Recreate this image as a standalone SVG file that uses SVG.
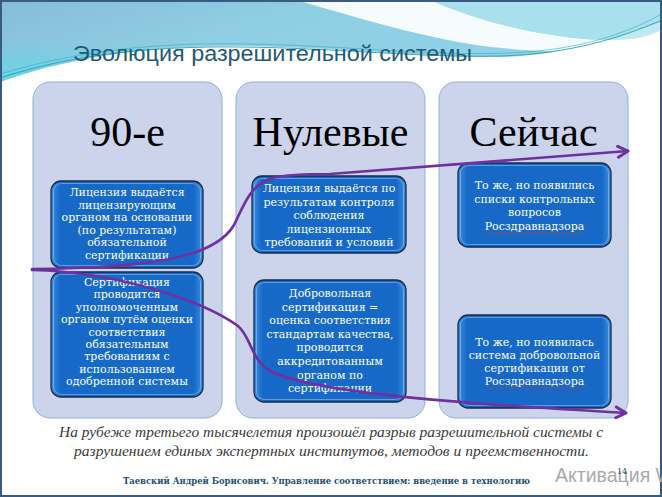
<svg xmlns="http://www.w3.org/2000/svg" width="662" height="497" viewBox="0 0 662 497">
<defs>
  <linearGradient id="hdr" x1="0" y1="0" x2="1" y2="0.4">
    <stop offset="0" stop-color="#86bcd9"/>
    <stop offset="0.45" stop-color="#8fcfe3"/>
    <stop offset="1" stop-color="#8fd2ea"/>
  </linearGradient>
  <linearGradient id="hdrlow" x1="0" y1="0" x2="0" y2="1">
    <stop offset="0" stop-color="#5fd3e3" stop-opacity="0"/>
    <stop offset="1" stop-color="#5fd8e6" stop-opacity="0.9"/>
  </linearGradient>
  <linearGradient id="boxfill" x1="0" y1="0" x2="1" y2="0">
    <stop offset="0" stop-color="#3c8fe0"/>
    <stop offset="0.06" stop-color="#1769c8"/>
    <stop offset="0.94" stop-color="#1769c8"/>
    <stop offset="1" stop-color="#3c8fe0"/>
  </linearGradient>
  <marker id="ah" viewBox="-12 -7 14 14" markerWidth="14" markerHeight="14" refX="0" refY="0" orient="auto" markerUnits="userSpaceOnUse">
    <polyline points="-10,-5.5 0,0 -10,5.5" fill="none" stroke="#7030a0" stroke-width="3" stroke-linecap="round" stroke-linejoin="round"/>
  </marker>
  <style>
    .col{fill:#cbd4ea;stroke:#8fb0d8;stroke-width:1}
    .box{fill:url(#boxfill);stroke:#1b2a44;stroke-width:1.3}
    .hl{fill:none;stroke:#9fd0ff;stroke-width:1;stroke-opacity:0.5}
    .head{font-family:"Liberation Serif",serif;font-size:42px;fill:#000;text-anchor:middle}
    .bt{font-family:"DejaVu Serif",serif;font-size:11px;fill:#fff;text-anchor:middle}
    .arr{fill:none;stroke:#7030a0;stroke-width:2.6;stroke-linecap:round}
    .sq{fill:none;stroke:#e03030;stroke-width:0.8;stroke-dasharray:1.5 1}
  </style>
</defs>
<rect x="0" y="0" width="662" height="497" fill="#ffffff"/>
<g id="header">
  <path d="M0,0 H662 V22 C610,40 560,56 500,57 C420,58 330,46 230,46 C140,46 60,60 0,82 Z" fill="url(#hdr)"/>
  <path d="M0,40 C60,50 150,44 230,46 C140,46 60,60 0,82 Z" fill="url(#hdrlow)"/>
  <path d="M295,0 H430 C480,22 550,40 615,40 C635,40 650,38 662,34 V44 C600,56 520,52 470,44 C400,32 340,12 295,0 Z" fill="#ffffff" opacity="0.92"/>
  <path d="M430,0 H662 V30 C650,36 635,40 615,40 C550,40 480,22 430,0 Z" fill="#aee3ef" opacity="0.8"/>
  <path d="M0,78 C70,55 150,46 240,47 C340,48 420,58 500,56 C570,54 620,38 662,20" fill="none" stroke="#2f9fb3" stroke-width="0.9"/>
  <path d="M0,74 C80,50 160,42 250,44 C350,46 430,56 510,53 C580,50 625,34 662,14" fill="none" stroke="#3aa9bd" stroke-width="0.6"/>
  <text x="73" y="61" font-family="Liberation Sans, Arial, sans-serif" font-size="22" fill="#1f5a78" textLength="399" lengthAdjust="spacingAndGlyphs">Эволюция разрешительной системы</text>
</g>
<rect x="1" y="1" width="660" height="495" fill="none" stroke="#3a5a82" stroke-width="2"/>
<g id="col-90">
  <rect class="col" x="33" y="82" width="189" height="336" rx="17"/>
  <text class="head" x="127.5" y="146">90-е</text>
</g>
<g id="col-00">
  <rect class="col" x="236" y="82" width="189" height="336" rx="17"/>
  <text class="head" x="330.5" y="146">Нулевые</text>
</g>
<g id="col-now">
  <rect class="col" x="439" y="82" width="189" height="336" rx="17"/>
  <text class="head" x="533.5" y="146">Сейчас</text>
</g>
<g id="box-90-lic">
  <rect class="box" x="51" y="181" width="152" height="87" rx="10"/>
  <rect class="hl" x="53.5" y="183.5" width="147" height="82" rx="8"/>
  <text class="bt" x="127" y="196">Лицензия выдаётся</text>
  <text class="bt" x="127" y="208.5">лицензирующим</text>
  <text class="bt" x="127" y="221">органом  на основании</text>
  <text class="bt" x="127" y="233.5">(по результатам)</text>
  <text class="bt" x="127" y="246">обязательной</text>
  <text class="bt" x="127" y="258.5">сертификации</text>
</g>
<g id="box-90-cert">
  <rect class="box" x="51" y="272" width="152" height="125" rx="10"/>
  <rect class="hl" x="53.5" y="274.5" width="147" height="120" rx="8"/>
  <text class="bt" x="127" y="286">Сертификация</text>
  <text class="bt" x="127" y="298.4">проводится</text>
  <text class="bt" x="127" y="310.8">уполномоченным</text>
  <text class="bt" x="127" y="323.2">органом  путём оценки</text>
  <text class="bt" x="127" y="335.6">соответствия</text>
  <text class="bt" x="127" y="348">обязательным</text>
  <text class="bt" x="127" y="360.4">требованиям с</text>
  <text class="bt" x="127" y="372.8">использованием</text>
  <text class="bt" x="127" y="385.2">одобренной системы</text>
</g>
<g id="box-00-lic">
  <rect class="box" x="252" y="176" width="154" height="77" rx="10"/>
  <rect class="hl" x="254.5" y="178.5" width="149" height="72" rx="8"/>
  <text class="bt" x="329" y="192">Лицензия выдаётся  по</text>
  <text class="bt" x="329" y="205.5">результатам контроля</text>
  <text class="bt" x="329" y="219">соблюдения</text>
  <text class="bt" x="329" y="232.5">лицензионных</text>
  <text class="bt" x="329" y="246">требований и условий</text>
</g>
<g id="box-00-cert">
  <rect class="box" x="254" y="280" width="152" height="122" rx="10"/>
  <rect class="hl" x="256.5" y="282.5" width="147" height="117" rx="8"/>
  <text class="bt" x="330" y="297">Добровольная</text>
  <text class="bt" x="330" y="310.6">сертификация  =</text>
  <text class="bt" x="330" y="324.2">оценка соответствия</text>
  <text class="bt" x="330" y="337.8">стандартам качества,</text>
  <text class="bt" x="330" y="351.4">проводится</text>
  <text class="bt" x="330" y="365">аккредитованным</text>
  <text class="bt" x="330" y="378.6">органом по</text>
  <text class="bt" x="330" y="392.2">сертификации</text>
</g>
<g id="box-now-lic">
  <rect class="box" x="458" y="163" width="153" height="84" rx="10"/>
  <rect class="hl" x="460.5" y="165.5" width="148" height="79" rx="8"/>
  <text class="bt" x="534.5" y="189">То же, но появились</text>
  <text class="bt" x="534.5" y="202.7">списки контрольных</text>
  <text class="bt" x="534.5" y="216.4">вопросов</text>
  <text class="bt" x="534.5" y="230">Росздравнадзора</text>
  <path class="sq" d="M486,233 H583"/>
</g>
<g id="box-now-cert">
  <rect class="box" x="458" y="315" width="153" height="93" rx="10"/>
  <rect class="hl" x="460.5" y="317.5" width="148" height="88" rx="8"/>
  <text class="bt" x="534.5" y="346">То же, но появилась</text>
  <text class="bt" x="534.5" y="359">система добровольной</text>
  <text class="bt" x="534.5" y="372">сертификации от</text>
  <text class="bt" x="534.5" y="385">Росздравнадзора</text>
  <path class="sq" d="M486,388 H583"/>
</g>
<g id="connectors">
  <path class="arr" d="M32,269 C150,268 215,258 234,225 C244,205 250,185 272,178 C290,174 310,174 330,174 L628,151" marker-end="url(#ah)"/>
  <path class="arr" d="M32,270 C120,272 205,302 238,326 C252,338 250,360 272,372 C320,394 470,404 626,413" marker-end="url(#ah)"/>
</g>
<g id="caption">
  <text x="331" y="437" font-family="Liberation Serif, serif" font-style="italic" font-size="14.5" fill="#3a3a3a" text-anchor="middle" textLength="544" lengthAdjust="spacingAndGlyphs">На рубеже третьего тысячелетия произошёл разрыв разрешительной системы с</text>
  <text x="331.5" y="456" font-family="Liberation Serif, serif" font-style="italic" font-size="14.5" fill="#3a3a3a" text-anchor="middle" textLength="515" lengthAdjust="spacingAndGlyphs">разрушением единых экспертных институтов, методов и преемственности.</text>
</g>
<g id="footer">
  <text x="123" y="484" font-family="DejaVu Serif, serif" font-size="8.8" font-weight="bold" fill="#274f6c" textLength="407" lengthAdjust="spacingAndGlyphs">Таевский Андрей Борисович. Управление соответствием: введение в технологию</text>
  <text x="555" y="482" font-family="Liberation Sans, Arial, sans-serif" font-size="19.5" fill="#aaaaaa">Активация Windows</text>
  <text x="617" y="474" font-family="DejaVu Serif, serif" font-size="8" fill="#274f6c">14</text>
</g>
</svg>
